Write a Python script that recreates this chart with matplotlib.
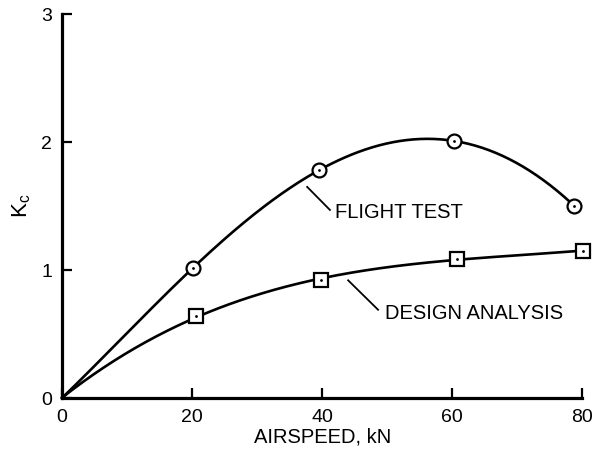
import numpy as np
import matplotlib
matplotlib.use('Agg')
import matplotlib.pyplot as plt

plt.rcParams['font.family'] = ['Liberation Sans', 'DejaVu Sans']

# data
flight_x = [0, 20.2, 39.5, 60.2, 78.8]
flight_y = [0, 1.02, 1.78, 2.01, 1.50]
design_x = [0, 20.6, 39.8, 60.8, 80.1]
design_y = [0, 0.64, 0.92, 1.09, 1.15]

x_ticks = [0, 20, 40, 60, 80]
y_ticks = [0, 1, 2, 3]

fig = plt.figure(figsize=(5.96, 4.57), dpi=100)
ax = fig.add_axes([0.104, 0.129, 0.873, 0.840])

# smooth curves through the measured points (origin included)
for xs, ys, deg in [(flight_x, flight_y, 4), (design_x, design_y, 3)]:
    c = np.polyfit(xs, ys, deg)
    xx = np.linspace(0, xs[-1], 300)
    ax.plot(xx, np.polyval(c, xx), color='black', lw=1.9, zorder=2, clip_on=False)

# markers with a dot in the middle
ax.plot(flight_x[1:], flight_y[1:], 'o', ms=10, mfc='white', mec='black', mew=1.6,
        zorder=3, clip_on=False)
ax.plot(design_x[1:], design_y[1:], 's', ms=9.5, mfc='white', mec='black', mew=1.6,
        zorder=3, clip_on=False)
ax.plot(flight_x[1:] + design_x[1:], flight_y[1:] + design_y[1:], '.', ms=2,
        color='black', zorder=4, clip_on=False)

# leader lines + labels
ax.plot([37.7, 41.2], [1.65, 1.47], color='black', lw=1.3)
ax.text(42.0, 1.45, 'FLIGHT TEST', fontsize=14.5, ha='left', va='center')
ax.plot([44.0, 48.6], [0.92, 0.69], color='black', lw=1.3)
ax.text(49.7, 0.66, 'DESIGN ANALYSIS', fontsize=14.5, ha='left', va='center')

ax.set_xlim(0, 80)
ax.set_ylim(0, 3)
ax.set_xticks(x_ticks)
ax.set_yticks(y_ticks)
ax.tick_params(direction='in', length=7, width=1.6, labelsize=14)
ax.tick_params(axis='x', pad=8)
ax.tick_params(axis='y', pad=7)
for s in ['top', 'right']:
    ax.spines[s].set_visible(False)
for s in ['left', 'bottom']:
    ax.spines[s].set_linewidth(2.3)

ax.set_xlabel('AIRSPEED, kN', fontsize=14.5, labelpad=1)
ax.set_ylabel(r'K$_\mathregular{c}$', fontsize=16, labelpad=6)

fig.savefig('out.png', dpi=100)
